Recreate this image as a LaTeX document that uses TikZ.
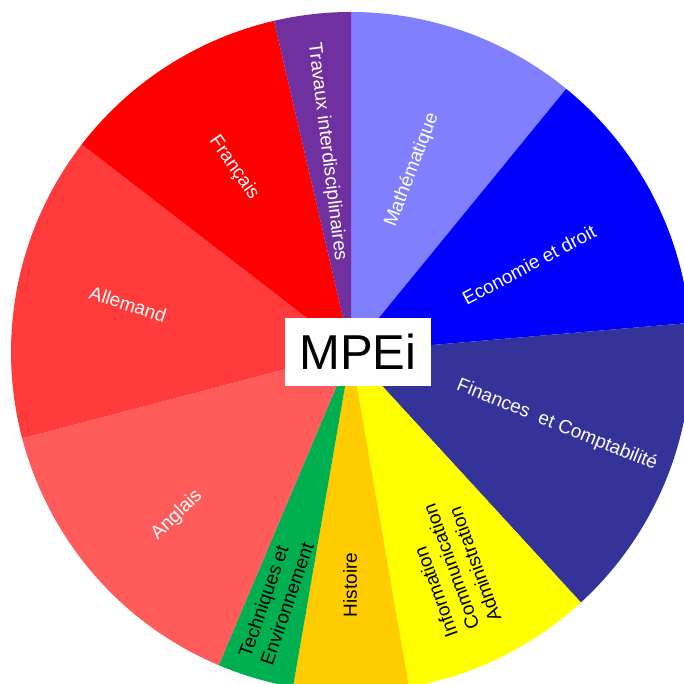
\documentclass[tikz,border=0pt]{standalone}
\usepackage{fontspec}
\setmainfont{Liberation Sans}
\definecolor{mathblue}{HTML}{8080FF}
\definecolor{ecoblue}{HTML}{0000FF}
\definecolor{finblue}{HTML}{333399}
\definecolor{infoyellow}{HTML}{FFFF00}
\definecolor{historange}{HTML}{FFCC00}
\definecolor{techgreen}{HTML}{00B050}
\definecolor{anglaisred}{HTML}{FF5B5B}
\definecolor{allemandred}{HTML}{FF3B3B}
\definecolor{francaisred}{HTML}{FF0000}
\definecolor{travauxpurple}{HTML}{7030A0}
\begin{document}
\begin{tikzpicture}[x=1pt,y=1pt,
  wlabel/.style={text=white,font=\fontsize{19}{23}\selectfont,inner sep=0pt},
  blabel/.style={text=black,font=\fontsize{19}{23}\selectfont,inner sep=0pt,align=left}]
 \useasboundingbox (-351,-332) rectangle (333,352);
 % slices, clockwise from the top
 \fill [mathblue] (0,0) -- (90:340) arc [start angle=90, end angle=50.727, radius=340] -- cycle;
 \fill [ecoblue] (0,0) -- (50.727:340) arc [start angle=50.727, end angle=4.909, radius=340] -- cycle;
 \fill [finblue] (0,0) -- (4.909:340) arc [start angle=4.909, end angle=-47.455, radius=340] -- cycle;
 \fill [infoyellow] (0,0) -- (-47.455:340) arc [start angle=-47.455, end angle=-80.182, radius=340] -- cycle;
 \fill [historange] (0,0) -- (-80.182:340) arc [start angle=-80.182, end angle=-99.818, radius=340] -- cycle;
 \fill [techgreen] (0,0) -- (-99.818:340) arc [start angle=-99.818, end angle=-112.909, radius=340] -- cycle;
 \fill [anglaisred] (0,0) -- (-112.909:340) arc [start angle=-112.909, end angle=-165.273, radius=340] -- cycle;
 \fill [allemandred] (0,0) -- (-165.273:340) arc [start angle=-165.273, end angle=-217.636, radius=340] -- cycle;
 \fill [francaisred] (0,0) -- (-217.636:340) arc [start angle=-217.636, end angle=-256.909, radius=340] -- cycle;
 \fill [travauxpurple] (0,0) -- (-256.909:340) arc [start angle=-256.909, end angle=-270, radius=340] -- cycle;
 % labels
 \node [wlabel,rotate=-83] (travaux) at (-24,200) {Travaux interdisciplinaires};
 \node [wlabel,rotate=69] (math) at (61,182) {Mathématique};
 \node [wlabel,rotate=28] (eco) at (178,87) {Economie et droit};
 \node [wlabel,rotate=-22] (fin) at (206,-73) {Finances~ et Comptabilité};
 \node [blabel,rotate=110] (info) at (100,-215) {Information\\Communication\\Administration};
 \node [blabel,rotate=90] (hist) at (-1,-233) {Histoire};
 \node [blabel,rotate=71] (tech) at (-75,-248) {Techniques et\\Environnement};
 \node [wlabel,rotate=44] (anglais) at (-174,-163) {Anglais};
 \node [wlabel,rotate=-18] (allemand) at (-223,48) {Allemand};
 \node [wlabel,rotate=-55] (francais) at (-117,184) {Français};
 % centre box
 \node [fill=white,minimum width=146,minimum height=68,inner sep=0pt,
   font=\fontsize{49}{59}\selectfont] (mpei) at (7,0) {MPEi};
\end{tikzpicture}
\end{document}
